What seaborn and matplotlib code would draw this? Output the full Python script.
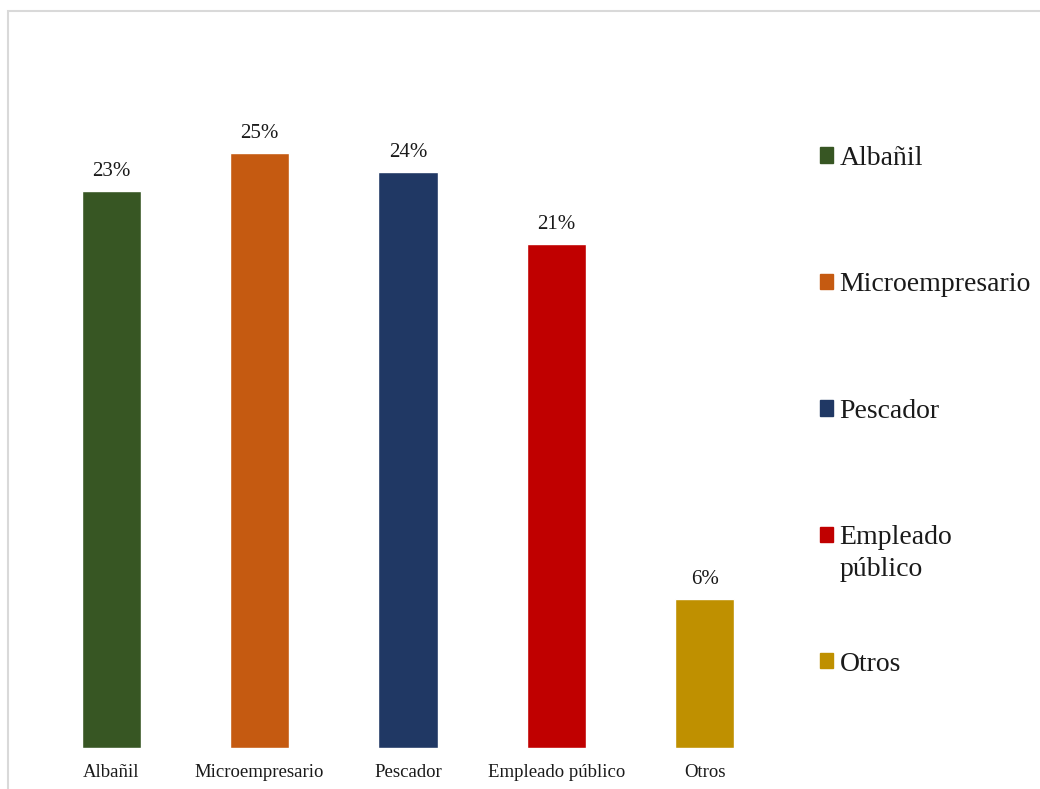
import matplotlib
matplotlib.use("Agg")
import matplotlib.pyplot as plt
import matplotlib.patches as mpatches
import seaborn as sns
import pandas as pd

categorias = ["Albañil", "Microempresario", "Pescador", "Empleado público", "Otros"]
porcentajes = [23.2, 24.8, 24.0, 21.0, 6.2]
etiquetas_valor = ["23%", "25%", "24%", "21%", "6%"]
etiquetas_leyenda = ["Albañil", "Microempresario", "Pescador", "Empleado", "Otros"]
colores = ["#375623", "#C55A11", "#203864", "#C00000", "#BF9000"]

sns.set_style("white")
plt.rcParams["font.family"] = ["Liberation Serif", "DejaVu Serif"]

df = pd.DataFrame({"cat": categorias, "pct": porcentajes})

fig = plt.figure(figsize=(10.4, 7.89), dpi=100)
ax = fig.add_axes([0.0356, 0.052, 0.7134, 0.9125])

sns.barplot(data=df, x="cat", y="pct", hue="cat", palette=colores,
            width=0.4, legend=False, ax=ax, saturation=1)

for cont, lab in zip(ax.containers, etiquetas_valor):
    ax.bar_label(cont, labels=[lab], padding=7, fontsize=15, color="#1a1a1a")

ax.set_ylim(0, 30)
ax.set_xlabel("")
ax.set_ylabel("")
ax.set_yticks([])
ax.tick_params(axis="x", length=0, pad=11.5, labelsize=13.5, labelcolor="#1a1a1a")
sns.despine(ax=ax, left=True, bottom=True)

handles = [mpatches.Patch(color=c) for c in colores]
leg = fig.legend(handles, etiquetas_leyenda, loc="upper left",
                 bbox_to_anchor=(0.788, 0.815), frameon=False, fontsize=20,
                 handlelength=0.47, handleheight=0.47, handletextpad=0.25,
                 labelspacing=3.65, borderpad=0, borderaxespad=0,
                 labelcolor="#1a1a1a")

# segunda línea de "Empleado público" en la leyenda
fig.canvas.draw()
bb = leg.get_texts()[3].get_window_extent().transformed(fig.transFigure.inverted())
fig.text(bb.x0, bb.y0 - 0.0405, "público", fontsize=20, color="#1a1a1a",
         ha="left", va="bottom")

# marco gris claro del gráfico
fig.patches.append(mpatches.Rectangle((8 / 1040, -0.1), 1.2, 1.1 - 11 / 789,
                                      transform=fig.transFigure, fill=False,
                                      edgecolor="#d9d9d9", linewidth=1.5))

fig.savefig("out.png", dpi=100)
